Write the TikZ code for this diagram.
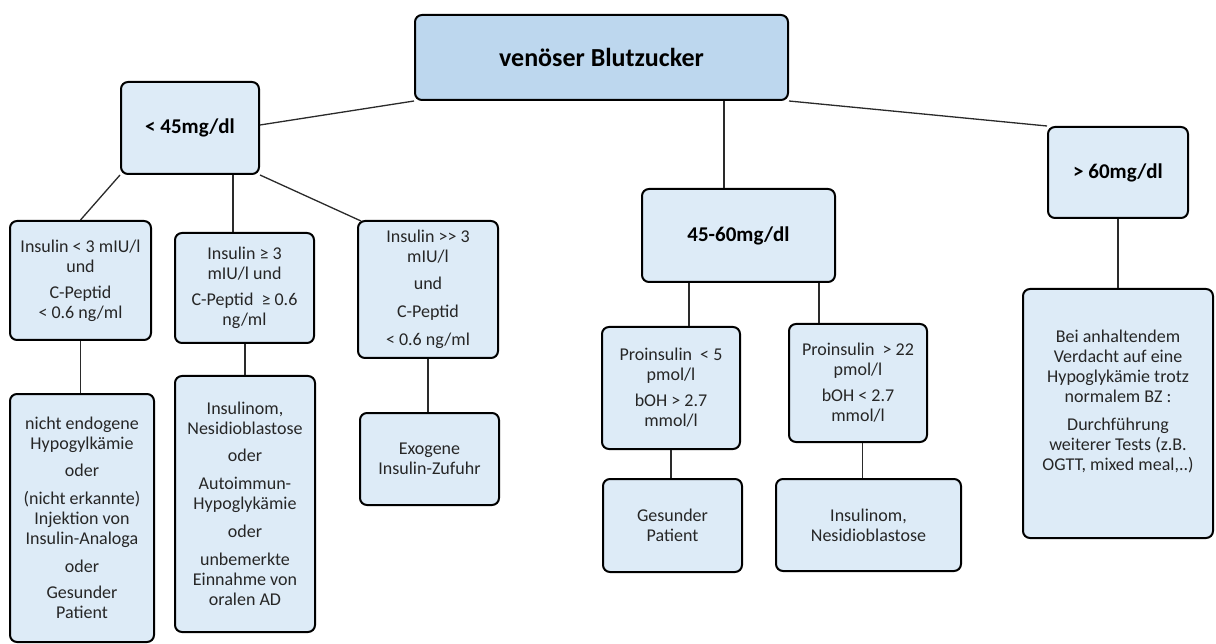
\documentclass[tikz,border=0pt]{standalone}
\usepackage{fontspec}
\setmainfont{Carlito}
\definecolor{boxblue}{HTML}{DDEBF7}
\definecolor{rootblue}{HTML}{BDD7EE}
\definecolor{textgray}{HTML}{262626}
\definecolor{linegray}{HTML}{2A2A2A}
\tikzset{
  box/.style={draw=black, line width=2pt, rounded corners=7pt, fill=boxblue,
    align=center, inner sep=0pt, text=textgray, font=\fontsize{18}{20}\selectfont},
  head/.style={box, text=black, font=\fontsize{21}{24}\bfseries\selectfont},
  link/.style={draw=linegray, line width=1.3pt},
}
\begin{document}
\begin{tikzpicture}[x=1pt, y=-1pt]
\useasboundingbox[fill=white] (0,0) rectangle (1216,644);
% level 0
\node[head, fill=rootblue, font=\fontsize{26}{30}\bfseries\selectfont,
  minimum width=373pt, minimum height=85pt] (root) at (601.5,57.5) {venöser Blutzucker};
% level 1
\node[head, minimum width=138pt, minimum height=92pt] (lt45) at (190,128) {< 45mg/dl};
\node[head, minimum width=193pt, minimum height=93pt] (mid) at (738.5,235.5) {45-60mg/dl};
\node[head, minimum width=140pt, minimum height=91pt] (gt60) at (1118,172.5) {> 60mg/dl};
% level 2 left
\node[box, minimum width=141pt, minimum height=119pt] (A1) at (80.5,280.5)
  {Insulin < 3 mIU/l\\und\\[6pt]C-Peptid\\< 0.6 ng/ml};
\node[box, minimum width=139pt, minimum height=110pt] (A2) at (244.5,288)
  {Insulin ≥ 3\\mIU/l und\\[6pt]C-Peptid\ \ ≥ 0.6\\ng/ml};
\node[box, minimum width=140pt, minimum height=137pt] (A3) at (428,289.5)
  {Insulin \mbox{>}\mbox{>} 3\\mIU/l\\[7pt]und\\[8pt]C-Peptid\\[8pt]< 0.6 ng/ml};
% level 3 left
\node[box, minimum width=144pt, minimum height=248pt] (B1) at (82,518)
  {nicht endogene\\Hypogylkämie\\[7pt]oder\\[8pt](nicht erkannte)\\Injektion von\\Insulin-Analoga\\[8pt]oder\\[6pt]Gesunder\\Patient};
\node[box, minimum width=140pt, minimum height=256pt] (B2) at (245,504)
  {Insulinom,\\Nesidioblastose\\[7pt]oder\\[8pt]Autoimmun-\\Hypoglykämie\\[8pt]oder\\[8pt]unbemerkte\\Einnahme von\\oralen AD};
\node[box, minimum width=139pt, minimum height=92pt] (B3) at (429.5,459)
  {Exogene\\Insulin-Zufuhr};
% middle branch
\node[box, minimum width=138pt, minimum height=122pt] (C1) at (671,388)
  {Proinsulin\ \ < 5\\pmol/l\\[6pt]bOH > 2.7\\mmol/l};
\node[box, minimum width=138pt, minimum height=118pt] (C2) at (858,383)
  {Proinsulin\ \ > 22\\pmol/l\\[6pt]bOH < 2.7\\mmol/l};
\node[box, minimum width=139pt, minimum height=93pt] (D1) at (672.5,525.5)
  {Gesunder\\Patient};
\node[box, minimum width=185pt, minimum height=92pt] (D2) at (868.5,525)
  {Insulinom,\\Nesidioblastose};
% right branch
\node[box, minimum width=190pt, minimum height=249pt] (E) at (1118,413.5) {};
\node[align=center, inner sep=0pt, text=textgray, font=\fontsize{18}{20}\selectfont]
  (Etext) at ([yshift=12pt]E.center)
  {Bei anhaltendem\\Verdacht auf eine\\Hypoglykämie trotz\\normalem BZ :\\[8pt]Durchführung\\weiterer Tests (z.B.\\OGTT, mixed meal,..)};
% connectors
\draw[link] (root.south west) -- ([yshift=3pt]lt45.east);
\draw[link] (root.south east) -- (gt60.north west);
\draw[link] ([xshift=-14.5pt]mid.north) -- ([xshift=-14.5pt]mid.north |- root.south);
\draw[link] (lt45.south west) -- (A1.north);
\draw[link] ([xshift=-11.5pt]A2.north) -- ([xshift=-11.5pt]A2.north |- lt45.south);
\draw[link] (lt45.south east) -- ([xshift=4pt,yshift=-1pt]A3.north west);
\draw[link] (A1.south) -- (A1.south |- B1.north);
\draw[link] (B2.north) -- (B2.north |- A2.south);
\draw[link] (A3.south) -- (A3.south |- B3.north);
\draw[link] ([xshift=-49.5pt]mid.south) -- ([xshift=-49.5pt]mid.south |- C1.north);
\draw[link] ([xshift=80.5pt]mid.south) -- ([xshift=80.5pt]mid.south |- C2.north);
\draw[link] (C1.south) -- (C1.south |- D1.north);
\draw[link] ([xshift=-6pt]D2.north) -- ([xshift=-6pt]D2.north |- C2.south);
\draw[link] (gt60.south) -- (gt60.south |- E.north);
\end{tikzpicture}
\end{document}
